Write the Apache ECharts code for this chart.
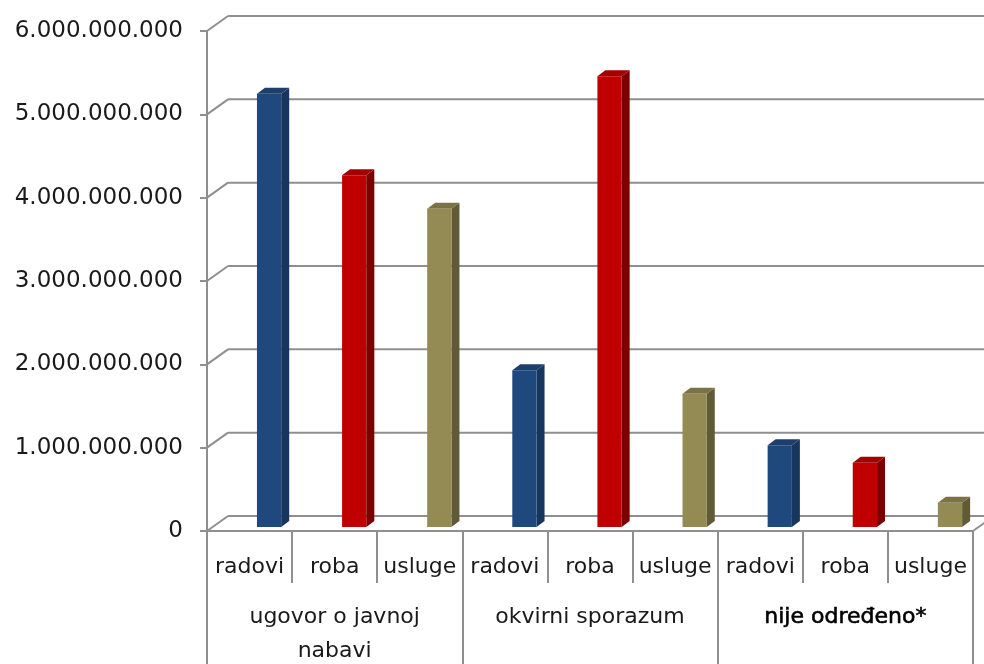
<!DOCTYPE html>
<html>
<head>
<meta charset="utf-8">
<script src="https://cdn.jsdelivr.net/npm/echarts@6/dist/echarts.min.js"></script>
<style>
html,body{margin:0;padding:0;background:#fff;}
#chart{width:984px;height:664px;}
</style>
</head>
<body>
<div id="chart"></div>
<script>
// ---- data ----
var subCategories = ['radovi','roba','usluge','radovi','roba','usluge','radovi','roba','usluge'];
var groupCategories = ['ugovor o javnoj\nnabavi','okvirni sporazum','nije određeno*'];
var values = [5200000000, 4220000000, 3820000000, 1880000000, 5410000000, 1600000000, 980000000, 770000000, 290000000];
var yTicks = [0, 1000000000, 2000000000, 3000000000, 4000000000, 5000000000, 6000000000];
var yTickLabels = ['0','1.000.000.000','2.000.000.000','3.000.000.000','4.000.000.000','5.000.000.000','6.000.000.000'];

// ---- styles ----
var palette = [
  {front:'#1f497d', side:'#17365d', top:'#1c3f6c'},
  {front:'#c00000', side:'#7a0000', top:'#a30000'},
  {front:'#948a54', side:'#615a36', top:'#7b7345'}
];
var lineColor = '#8f8f8f';
var textColor = '#1a1a1a';
var FONT = 'DejaVu Sans';
var DX = 21, DY = 15; // depth offset of back wall

var chart = echarts.init(document.getElementById('chart'));

function gridItem(params, api){
  var v = api.value(0);
  var p = api.coord([0, v]);
  var band = api.size([1, 0])[0];
  var x0 = p[0] - band / 2;
  var y0 = p[1];
  var xEnd = x0 + band * subCategories.length;
  var children = [
    {type:'line', shape:{x1:x0, y1:y0, x2:x0 + DX, y2:y0 - DY}, style:{stroke:lineColor, lineWidth:2}},
    {type:'line', shape:{x1:x0 + DX, y1:y0 - DY, x2:xEnd + DX + 20, y2:y0 - DY}, style:{stroke:lineColor, lineWidth:2}}
  ];
  if (v === 0) {
    children.push({type:'line', shape:{x1:xEnd, y1:y0, x2:xEnd + DX, y2:y0 - DY}, style:{stroke:lineColor, lineWidth:2}});
  }
  return {type:'group', children:children};
}

function barItem(params, api){
  var i = api.value(0);
  var v = api.value(1);
  var base = api.coord([i, 0]);
  var top = api.coord([i, v]);
  var band = api.size([1, 0])[0];
  var left = base[0] - band / 2 + band * 0.587;
  var w = band * 0.285;
  var bottom = base[1] - 4;
  var ty = top[1] - 4;
  var sx = 8, sy = 6;
  var c = palette[i % 3];
  return {type:'group', children:[
    {type:'polygon', shape:{points:[[left + w, ty],[left + w + sx, ty - sy],[left + w + sx, bottom - sy],[left + w, bottom]]}, style:{fill:c.side}},
    {type:'polygon', shape:{points:[[left, ty],[left + sx, ty - sy],[left + w + sx, ty - sy],[left + w, ty]]}, style:{fill:c.top}},
    {type:'rect', shape:{x:left, y:ty, width:w, height:bottom - ty}, style:{fill:c.front}}
  ]};
}

var option = {
  animation:false,
  backgroundColor:'#ffffff',
  grid:{left:207, right:11, top:31, bottom:133, containLabel:false, outerBoundsMode:'none'},
  xAxis:[
    {
      type:'category', data:subCategories, position:'bottom', gridIndex:0,
      axisLine:{show:true, lineStyle:{color:lineColor, width:2}},
      axisTick:{show:true, length:52, interval:0, lineStyle:{color:lineColor, width:2}},
      axisLabel:{interval:0, margin:25, fontFamily:FONT, fontSize:22, color:textColor},
      splitLine:{show:false}
    },
    {
      type:'category', data:groupCategories, position:'bottom', gridIndex:0, offset:0,
      axisLine:{show:false},
      axisTick:{show:true, length:133, interval:0, lineStyle:{color:lineColor, width:2}},
      axisLabel:{
        interval:0, margin:69, fontFamily:FONT, fontSize:22, lineHeight:34, color:textColor,
        formatter:function(v, idx){ return idx === 2 ? '{b|' + v + '}' : v; },
        rich:{b:{fontFamily:FONT, fontSize:22, color:'#000', lineHeight:34, textBorderColor:'#000', textBorderWidth:0.6}}
      },
      splitLine:{show:false}
    }
  ],
  yAxis:{
    type:'value', min:0, max:6000000000, interval:1000000000,
    axisLine:{show:true, lineStyle:{color:lineColor, width:2}},
    axisTick:{show:true, length:7, lineStyle:{color:lineColor, width:2}},
    axisLabel:{margin:24, fontFamily:FONT, fontSize:23, color:textColor,
      formatter:function(v){ var k = yTicks.indexOf(v); return k >= 0 ? yTickLabels[k] : ''; }},
    splitLine:{show:false}
  },
  series:[
    {
      type:'custom', name:'grid', xAxisIndex:0, yAxisIndex:0, z:1, silent:true,
      renderItem:gridItem,
      encode:{x:-1, y:0},
      data:yTicks.map(function(t){ return [t]; })
    },
    {
      type:'custom', name:'bars', xAxisIndex:0, yAxisIndex:0, z:3,
      renderItem:barItem,
      encode:{x:0, y:1},
      data:values.map(function(v, i){ return [i, v]; })
    }
  ]
};
chart.setOption(option);
</script>
</body>
</html>
